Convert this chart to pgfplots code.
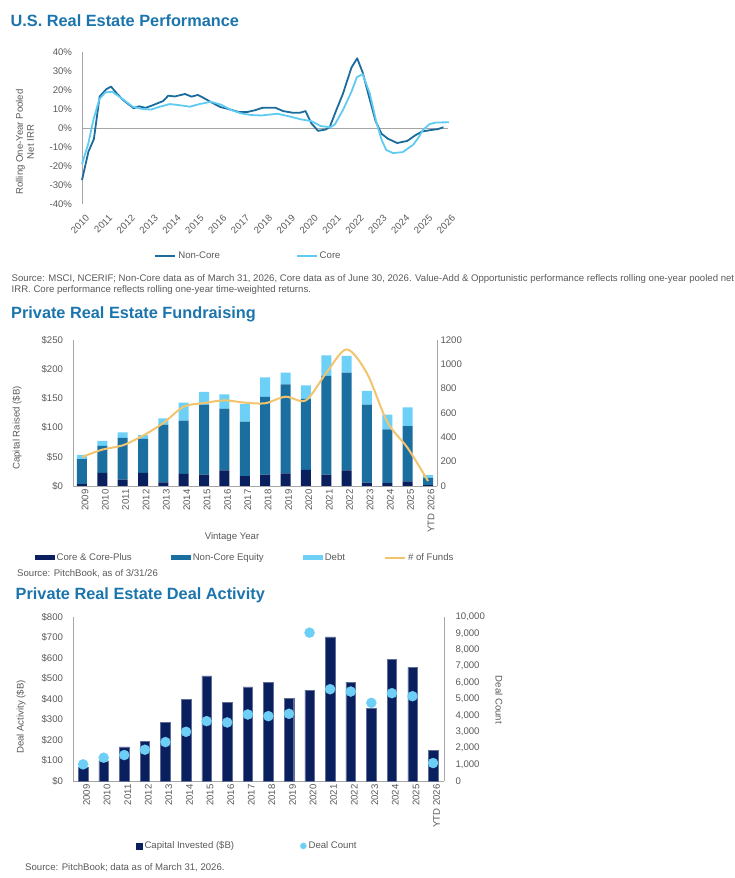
\documentclass[border=0pt]{standalone}
\usepackage{fontspec}
\setmainfont{Liberation Sans}
\usepackage{pgfplots}
\usepackage{pgfplotstable}
\pgfplotsset{compat=1.18}

\definecolor{titleblue}{HTML}{1B75AC}
\definecolor{noncore}{HTML}{1B6C9C}
\definecolor{corecol}{HTML}{5FCBF3}
\definecolor{navy}{HTML}{0A1F5E}
\definecolor{equity}{HTML}{1B6FA0}
\definecolor{debt}{HTML}{6DD0F7}
\definecolor{funds}{HTML}{F2C46D}
\definecolor{dots}{HTML}{6DCFF6}
\definecolor{txt}{HTML}{595959}
\definecolor{axgrey}{HTML}{A6A6A6}

\newcommand{\fs}{\fontsize{9.6}{11}\selectfont}
\newcommand{\ttl}{\fontsize{16.3}{19}\selectfont\bfseries}

\pgfplotsset{
  base/.style={
    scale only axis,
    anchor=south west,
    clip=false,
    scaled ticks=false,
    /pgf/number format/assume math mode=true,
    /pgf/number format/1000 sep={},
    tick label style={font=\fs, text=txt},
    axis line style={axgrey, line width=0.8pt},
    major tick length=0pt,
    tick style={draw=none},
    legend style={draw=none, fill=none, font=\fs, text=txt, anchor=center},
    legend cell align=left,
  },
  barlegend/.style={legend image code/.code={\fill[##1] (0pt,-2.5pt) rectangle (20pt,2.5pt);}},
  linelegend/.style={legend image code/.code={\draw[##1] (0pt,0pt) -- (20pt,0pt);}},
}

% rolling one-year returns, % (year, value)
\pgfplotstableread{
x y
2010.00 -27.4
2010.28 -12.5
2010.52 -5.8
2010.77 16.5
2011.06 20.4
2011.27 21.8
2011.52 18.2
2011.80 14.7
2012.02 12.6
2012.26 10.4
2012.50 11.4
2012.78 10.6
2013.10 12.0
2013.30 13.0
2013.55 14.2
2013.77 17.0
2014.06 16.6
2014.50 17.9
2014.79 16.5
2015.06 17.4
2015.32 15.8
2015.70 13.2
2016.06 11.0
2016.46 9.8
2016.86 8.4
2017.22 8.4
2017.58 9.4
2017.88 10.6
2018.45 10.7
2018.79 8.9
2019.23 8.0
2019.52 8.0
2019.77 8.9
2020.03 2.4
2020.32 -1.5
2020.65 -0.8
2020.83 0.5
2021.12 9.5
2021.40 17.8
2021.78 31.8
2022.03 36.7
2022.27 29.2
2022.54 16.8
2022.83 3.8
2023.09 -3.0
2023.38 -5.7
2023.78 -7.9
2024.22 -6.8
2024.55 -4.0
2024.85 -1.9
2025.23 -1.1
2025.56 -0.6
2025.80 0.4
}\noncoredata

\pgfplotstableread{
x y
2010.00 -19.0
2010.28 -8.0
2010.50 4.4
2010.76 15.2
2011.02 18.7
2011.32 19.1
2011.73 15.6
2012.22 11.2
2012.59 10.1
2013.02 9.7
2013.40 11.2
2013.84 12.6
2014.20 12.1
2014.72 11.2
2015.10 12.5
2015.64 13.8
2016.07 12.3
2016.52 9.5
2016.95 7.7
2017.40 6.8
2017.85 6.6
2018.54 7.5
2019.00 6.3
2019.55 4.6
2020.03 3.6
2020.44 1.0
2020.86 0.4
2021.05 1.8
2021.41 9.5
2021.78 19.1
2022.02 26.8
2022.27 28.3
2022.58 18.2
2022.87 3.0
2023.10 -6.3
2023.30 -11.6
2023.60 -13.2
2024.02 -12.7
2024.47 -8.9
2024.69 -5.4
2024.90 -1.1
2025.20 2.1
2025.49 2.9
2026.04 3.0
}\coredata

% fundraising, $B per segment, and number of funds
\pgfplotstableread{
x core equity debt funds
0 3.4 42.8 6.9 238
1 22.3 46.2 8.6 299
2 10.8 71.4 9.7 334
3 22.3 58.7 6.3 414
4 6.3 98.7 10.9 518
5 20.6 91.3 30.8 652
6 19.4 119.9 21.7 682
7 26.8 105.6 24.6 704
8 17.1 93.1 30.2 685
9 19.4 133.0 33.6 680
10 21.7 152.4 19.9 734
11 27.4 121.6 23.4 704
12 19.4 169.0 35.4 929
13 26.8 167.2 28.6 1123
14 5.7 133.6 23.4 926
15 5.1 91.9 25.2 526
16 8.0 94.7 32.0 312
17 1.7 12.0 5.1 41
}\fundsdata

% deal activity, $B, and deal count
\pgfplotstableread{
x cap count
0 65 1014
1 99 1420
2 166 1582
3 193 1906
4 287 2373
5 399 3001
6 513 3650
7 383 3569
8 459 4056
9 480 3955
10 402 4097
11 443 9045
12 703 5597
13 482 5455
14 354 4766
15 594 5354
16 555 5171
17 148 1095
}\dealdata

\begin{document}
\begin{tikzpicture}
\useasboundingbox (0,0) rectangle (735pt,878pt);

% ---------- U.S. Real Estate Performance ----------
\node[anchor=base west, font=\ttl, text=titleblue, inner sep=0] at (10.5pt,851.5pt) {U.S. Real Estate Performance};
\node[rotate=90, align=center, font=\fs, text=txt] at (25pt,736pt) {Rolling One-Year Pooled\\Net IRR};

\begin{axis}[base,
  at={(82pt,674pt)}, width=366pt, height=152pt,
  xmin=2010, xmax=2026, ymin=-40, ymax=40,
  axis y line*=left, axis x line*=bottom,
  x axis line style={draw=none},
  xtick={2010,2011,...,2026},
  xticklabel style={rotate=45, anchor=east, xshift=-1.5pt, yshift=-13pt},
  ytick={-40,-30,...,40},
  yticklabel={\pgfmathprintnumber{\tick}\%},
  yticklabel style={xshift=-6.5pt},
  extra y ticks={0}, extra y tick labels={},
  extra y tick style={grid=major, major grid style={axgrey, line width=0.8pt}},
  legend columns=2,
  legend style={at={(0.455,-0.342)}, /tikz/every even column/.style={column sep=74pt}},
  linelegend,
]
\addplot[noncore, line width=1.8pt, line join=round] table[x=x, y=y] {\noncoredata};
\addlegendentry{Non-Core}
\addplot[corecol, line width=1.8pt, line join=round] table[x=x, y=y] {\coredata};
\addlegendentry{Core}
\end{axis}

\node[anchor=base west, font=\fs, text=txt, inner sep=0] at (11.5pt,596.5pt) {Source: MSCI, NCERIF; Non-Core data as of March 31, 2026, Core data as of June 30, 2026. Value-Add \& Opportunistic performance reflects rolling one-year pooled net};
\node[anchor=base west, font=\fs, text=txt, inner sep=0] at (11.5pt,585pt) {IRR. Core performance reflects rolling one-year time-weighted returns.};

% ---------- Private Real Estate Fundraising ----------
\node[anchor=base west, font=\ttl, text=titleblue, inner sep=0] at (11pt,559pt) {Private Real Estate Fundraising};
\node[rotate=90, font=\fs, text=txt] at (17pt,450pt) {Capital Raised (\$B)};
\node[font=\fs, text=txt] at (232pt,341pt) {Vintage Year};

\begin{axis}[base,
  at={(73pt,392pt)}, width=364pt, height=146pt,
  xmin=-0.44, xmax=17.44, ymin=0, ymax=250,
  axis y line*=left, axis x line*=bottom,
  ybar stacked, bar width=10pt,
  xtick={0,1,...,17},
  xticklabels={2009,2010,2011,2012,2013,2014,2015,2016,2017,2018,2019,2020,2021,2022,2023,2024,2025,YTD 2026},
  xticklabel style={rotate=90, anchor=east, yshift=-3pt},
  ytick={0,50,...,250},
  yticklabel={\$\pgfmathprintnumber{\tick}},
  yticklabel style={xshift=-6.5pt},
  legend columns=4,
  legend style={at={(0.4725,-0.493)}, /tikz/every even column/.style={column sep=37pt}},
]
\addplot[fill=navy, draw=none, barlegend] table[x=x, y=core] {\fundsdata};
\addlegendentry{Core \& Core-Plus}
\addplot[fill=equity, draw=none, barlegend] table[x=x, y=equity] {\fundsdata};
\addlegendentry{Non-Core Equity}
\addplot[fill=debt, draw=none, barlegend] table[x=x, y=debt] {\fundsdata};
\addlegendentry{Debt}
\addlegendimage{funds, line width=2pt, linelegend}
\addlegendentry{\# of Funds}
\end{axis}

\begin{axis}[base,
  at={(73pt,392pt)}, width=364pt, height=146pt,
  xmin=-0.44, xmax=17.44, ymin=0, ymax=1200,
  axis y line*=right, axis x line=none, xtick=\empty,
  ytick={0,200,...,1200},
]
\addplot[funds, line width=2pt, smooth] table[x=x, y=funds] {\fundsdata};
\end{axis}

\node[anchor=base west, font=\fs, text=txt, inner sep=0] at (17pt,301pt) {Source: PitchBook, as of 3/31/26};

% ---------- Private Real Estate Deal Activity ----------
\node[anchor=base west, font=\ttl, text=titleblue, inner sep=0] at (15.5pt,278.7pt) {Private Real Estate Deal Activity};
\node[rotate=90, font=\fs, text=txt] at (21pt,161pt) {Deal Activity (\$B)};
\node[rotate=-90, font=\fs, text=txt] at (499pt,178pt) {Deal Count};

\begin{axis}[base,
  at={(73pt,97pt)}, width=371pt, height=164pt,
  xmin=-0.49, xmax=17.53, ymin=0, ymax=800,
  axis y line*=left, axis x line*=bottom,
  ybar, bar width=9.5pt,
  xtick={0,1,...,17},
  xticklabels={2009,2010,2011,2012,2013,2014,2015,2016,2017,2018,2019,2020,2021,2022,2023,2024,2025,YTD 2026},
  xticklabel style={rotate=90, anchor=east, yshift=-3.5pt},
  ytick={0,100,...,800},
  yticklabel={\$\pgfmathprintnumber{\tick}},
  yticklabel style={xshift=-6.5pt},
  legend columns=2,
  legend style={at={(0.47,-0.396)}, /tikz/every even column/.style={column sep=64pt}},
]
\addplot[fill=navy, draw=navy!65!white, line width=0.4pt,
  legend image code/.code={\fill[navy] (0pt,-3pt) rectangle (6pt,3pt);}]
  table[x=x, y=cap] {\dealdata};
\addlegendentry{Capital Invested (\$B)}
\addlegendimage{dots, only marks, mark=*, mark size=3pt,
  legend image code/.code={\fill[dots] (3pt,0pt) circle (3pt);}}
\addlegendentry{Deal Count}
\end{axis}

\begin{axis}[base,
  at={(73pt,97pt)}, width=371pt, height=164pt,
  xmin=-0.49, xmax=17.53, ymin=0, ymax=10000,
  axis y line*=right, axis x line=none, xtick=\empty,
  ytick={0,1000,...,10000},
  /pgf/number format/1000 sep={,},
  yticklabel style={xshift=8pt},
]
\addplot[dots, only marks, mark=*, mark size=5pt, mark options={draw=dots, fill=dots}] table[x=x, y=count] {\dealdata};
\end{axis}

\node[anchor=base west, font=\fs, text=txt, inner sep=0] at (25pt,7pt) {Source: PitchBook; data as of March 31, 2026.};
\end{tikzpicture}
\end{document}
